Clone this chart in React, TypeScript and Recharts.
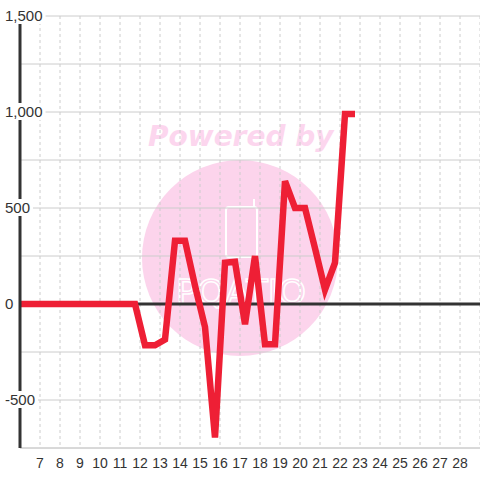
import { LineChart, Line, XAxis, YAxis, CartesianGrid, ReferenceLine } from 'recharts';

const xValues = [
  5.75, 6.25, 6.75, 7.25, 7.75, 8.25, 8.75, 9.25, 9.75, 10.25, 10.75, 11.25, 11.75,
  12.25, 12.75, 13.25, 13.75, 14.25, 14.75, 15.25, 15.75, 16.25, 16.75, 17.25, 17.75,
  18.25, 18.75, 19.25, 19.75, 20.25, 20.75, 21.25, 21.75, 22.25, 22.75,
];
const yValues = [
  0, 0, 0, 0, 0, 0, 0, 0, 0, 0, 0, 0, 0,
  -215, -215, -185, 330, 330, 95, -120, -695, 215, 220, -105, 250,
  -210, -210, 640, 500, 500, 290, 75, 215, 990, 990,
];
const xTicks = [7, 8, 9, 10, 11, 12, 13, 14, 15, 16, 17, 18, 19, 20, 21, 22, 23, 24, 25, 26, 27, 28];
const yTicks = [-750, -500, -250, 0, 250, 500, 750, 1000, 1250, 1500];
const yLabels = [-500, 0, 500, 1000, 1500];

const data = xValues.map((x, i) => ({ x, y: yValues[i] }));

const fmt = (v: number) => v.toLocaleString('en-US');

const textWidth = (s: string) =>
  s.split('').reduce((w, c) => w + (c === ',' ? 4.2 : c === '-' ? 5 : 8.34), 0);

const YTick = (props: any) => {
  const { y, payload } = props;
  if (!yLabels.includes(payload.value)) return null;
  const label = fmt(payload.value);
  return (
    <g>
      <rect x={3} y={y - 9} width={textWidth(label) + 5} height={17} fill="#fff" />
      <text x={5} y={y} dy={5} fontSize={15} fill="#333" fontFamily="Liberation Sans, Arial, sans-serif">
        {label}
      </text>
    </g>
  );
};

const Watermark = () => (
  <svg width={480} height={480} style={{ position: 'absolute', left: 0, top: 0 }}>
    <rect width={480} height={480} fill="#fff" />
    <text
      x={148}
      y={146}
      fontSize={28}
      fontWeight="bold"
      fontStyle="italic"
      fill="#fcd6ee"
      fontFamily="DejaVu Sans, sans-serif"
    >
      Powered by
    </text>
    <circle cx={240} cy={258} r={98} fill="#fcd4ec" />
    <rect x={226} y={207} width={31} height={50} rx={3} fill="none" stroke="#fff" strokeWidth={2} />
    <line x1={254} y1={199} x2={254} y2={208} stroke="#fff" strokeWidth={2} />
    <text
      x={176}
      y={304}
      fontSize={34}
      textLength={130}
      lengthAdjust="spacingAndGlyphs"
      fill="none"
      stroke="#fff"
      strokeWidth={1.5}
      fontFamily="DejaVu Sans, sans-serif"
    >
      PQATIO
    </text>
  </svg>
);

export default function App() {
  return (
    <div style={{ position: 'absolute', left: 0, top: 0, width: 480, height: 480 }}>
      <Watermark />
      <div style={{ position: 'absolute', left: 0, top: 0 }}>
        <LineChart width={480} height={480} data={data} margin={{ top: 16, right: 0, left: 0, bottom: 0 }}>
          <CartesianGrid horizontal={false} stroke="#ccc" strokeDasharray="3 3" />
          <CartesianGrid vertical={false} stroke="#ccc" />
          <XAxis
            dataKey="x"
            type="number"
            height={32}
            domain={[6, 29]}
            ticks={xTicks}
            allowDataOverflow
            interval={0}
            tickLine={false}
            axisLine={{ stroke: '#ccc', strokeWidth: 1 }}
            tick={{ fontSize: 14, fill: '#333', fontFamily: 'Liberation Sans, Arial, sans-serif', dy: 2 }}
          />
          <YAxis
            type="number"
            width={20}
            domain={[-750, 1500]}
            ticks={yTicks}
            interval={0}
            tickLine={false}
            axisLine={{ stroke: '#333', strokeWidth: 3 }}
            tick={<YTick />}
          />
          <ReferenceLine y={0} stroke="#333" strokeWidth={3} />
          <Line
            dataKey="y"
            type="linear"
            stroke="#ee1f35"
            strokeWidth={6.5}
            dot={false}
            isAnimationActive={false}
          />
        </LineChart>
      </div>
    </div>
  );
}
